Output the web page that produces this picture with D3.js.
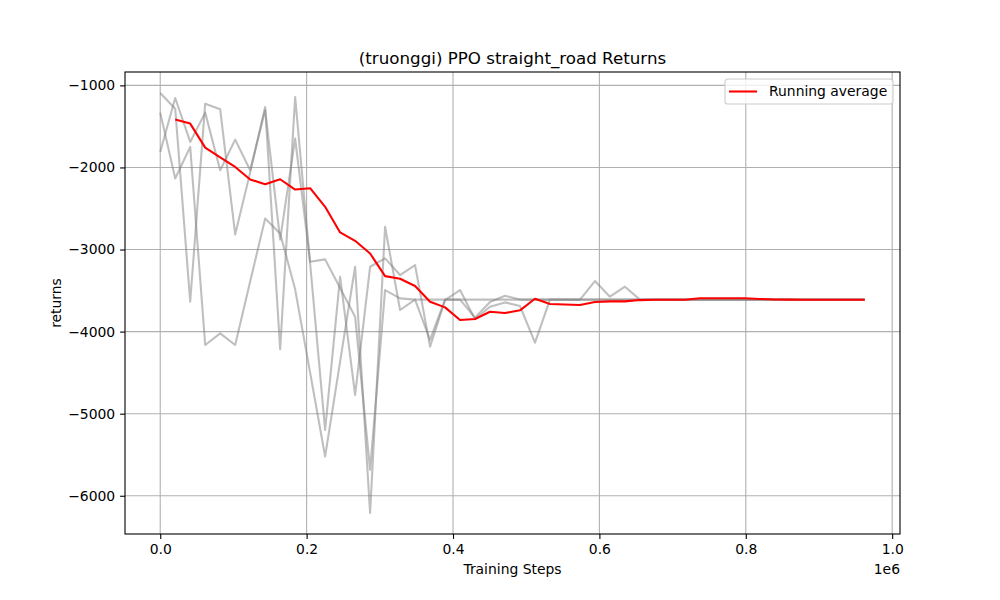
<!DOCTYPE html>
<html>
<head>
<meta charset="utf-8">
<script src="https://cdn.jsdelivr.net/npm/d3@7"></script>
<style>
  body { margin: 0; background: #fff; }
  svg { font-family: "DejaVu Sans", sans-serif; }
</style>
</head>
<body>
<div id="chart"></div>
<script>
// training steps (x)
const steps = [
  0, 20480, 40960, 61440, 81920, 102400, 122880, 143360, 163840, 184320,
  204800, 225280, 245760, 266240, 286720, 307200, 327680, 348160, 368640, 389120,
  409600, 430080, 450560, 471040, 491520, 512000, 532480, 552960, 573440, 593920,
  614400, 634880, 655360, 675840, 696320, 716800, 737280, 757760, 778240, 798720,
  819200, 839680, 860160, 880640, 901120, 921600, 942080, 962560
];

// returns of the three runs (gray)
const runA = [
  -1093, -1284, -3636, -1223, -1292, -2816, -2060, -1263, -4215, -1142,
  -3170, -5197, -3332, -4771, -3210, -3108, -3311, -3190, -4183, -3616,
  -3494, -3850, -3697, -3644, -3688, -4135, -3610, -3610, -3610, -3384,
  -3575, -3453, -3610, -3610, -3610, -3610, -3610, -3610, -3610, -3610,
  -3610, -3610, -3610, -3610, -3610, -3610, -3610, -3610
];
const runB = [
  -1332, -2135, -1750, -4163, -4021, -4163, -3390, -2622, -2804, -3485,
  -4500, -5522, -4365, -3210, -6210, -2723, -3737, -3610, -4100, -3610,
  -3610, -3830, -3640, -3563, -3610, -3610, -3610, -3610, -3610, -3610,
  -3610, -3610, -3610, -3610, -3610, -3610, -3610, -3610, -3610, -3610,
  -3610, -3610, -3610, -3610, -3610, -3610, -3610, -3610
];
const runC = [
  -1811, -1154, -1689, -1332, -2034, -1661, -2034, -1300, -2880, -1649,
  -3150, -3120, -3470, -3818, -5684, -3494, -3595, -3610, -3610, -3610,
  -3610, -3610, -3610, -3610, -3610, -3610, -3610, -3610, -3610, -3610,
  -3610, -3610, -3610, -3610, -3610, -3610, -3610, -3610, -3610, -3610,
  -3610, -3610, -3610, -3610, -3610, -3610, -3610, -3610
];

// running average (red), starts at the second step
const avgSteps = steps.slice(1);
const runningAvg = [
  -1417, -1466, -1758, -1876, -1994, -2147, -2204, -2144, -2269,
  -2253, -2480, -2792, -2894, -3048, -3324, -3356, -3445, -3636, -3705,
  -3859, -3847, -3758, -3774, -3741, -3600, -3664, -3670, -3676, -3640,
  -3632, -3632, -3616, -3612, -3612, -3612, -3593, -3593, -3593, -3593,
  -3602, -3608, -3610, -3611, -3611, -3611, -3611, -3611
];

const xTicks = [0, 200000, 400000, 600000, 800000, 1000000];
const yTicks = [-1000, -2000, -3000, -4000, -5000, -6000];

const width = 1000;
const height = 600;
const margin = { top: 72, right: 100, bottom: 66, left: 125 };
const innerWidth = width - margin.left - margin.right;
const innerHeight = height - margin.top - margin.bottom;

const svg = d3.select("#chart")
  .append("svg")
  .attr("width", width)
  .attr("height", height);

const g = svg.append("g")
  .attr("transform", `translate(${margin.left},${margin.top})`);

// matplotlib style 5% margins
const allY = runA.concat(runB, runC, runningAvg);
const [yMin, yMax] = d3.extent(allY);
const [xMin, xMax] = d3.extent(steps);
const xPad = (xMax - xMin) * 0.05;
const yPad = (yMax - yMin) * 0.05;

const x = d3.scaleLinear()
  .domain([xMin - xPad, xMax + xPad])
  .range([0, innerWidth]);

const y = d3.scaleLinear()
  .domain([yMin - yPad, yMax + yPad])
  .range([innerHeight, 0]);

// grid
g.append("g")
  .selectAll("line")
  .data(xTicks)
  .enter()
  .append("line")
  .attr("x1", d => x(d)).attr("x2", d => x(d))
  .attr("y1", 0).attr("y2", innerHeight)
  .attr("stroke", "#b0b0b0")
  .attr("stroke-width", 1.1);

g.append("g")
  .selectAll("line")
  .data(yTicks)
  .enter()
  .append("line")
  .attr("x1", 0).attr("x2", innerWidth)
  .attr("y1", d => y(d)).attr("y2", d => y(d))
  .attr("stroke", "#b0b0b0")
  .attr("stroke-width", 1.1);

// lines
const line = d3.line()
  .x(d => x(d[0]))
  .y(d => y(d[1]));

[runA, runB, runC].forEach(run => {
  g.append("path")
    .datum(steps.map((s, i) => [s, run[i]]))
    .attr("d", line)
    .attr("fill", "none")
    .attr("stroke", "#808080")
    .attr("stroke-opacity", 0.5)
    .attr("stroke-width", 2.08)
    .attr("stroke-linejoin", "round");
});

g.append("path")
  .datum(avgSteps.map((s, i) => [s, runningAvg[i]]))
  .attr("d", line)
  .attr("fill", "none")
  .attr("stroke", "red")
  .attr("stroke-width", 2.08)
  .attr("stroke-linejoin", "round");

// axes
const xAxis = g.append("g")
  .attr("transform", `translate(0,${innerHeight})`)
  .call(d3.axisBottom(x)
    .tickValues(xTicks)
    .tickFormat(d => (d / 1e6).toFixed(1))
    .tickSize(4.9)
    .tickPadding(4.9));

const yAxis = g.append("g")
  .call(d3.axisLeft(y)
    .tickValues(yTicks)
    .tickFormat(d => "\u2212" + Math.abs(d))
    .tickSize(4.9)
    .tickPadding(4.9));

[xAxis, yAxis].forEach(ax => {
  ax.select(".domain").remove();
  ax.selectAll(".tick line").attr("stroke", "#000").attr("stroke-width", 1.1);
  ax.selectAll("text")
    .attr("fill", "#000")
    .style("font-size", "13.9px")
    .style("font-family", "DejaVu Sans");
});

// frame
g.append("rect")
  .attr("width", innerWidth)
  .attr("height", innerHeight)
  .attr("fill", "none")
  .attr("stroke", "#000")
  .attr("stroke-width", 1.1);

// offset text
svg.append("text")
  .attr("x", margin.left + innerWidth)
  .attr("y", 574)
  .attr("text-anchor", "end")
  .style("font-size", "13.9px")
  .text("1e6");

// labels
svg.append("text")
  .attr("x", margin.left + innerWidth / 2)
  .attr("y", 574)
  .attr("text-anchor", "middle")
  .style("font-size", "13.9px")
  .text("Training Steps");

svg.append("text")
  .attr("transform", `translate(61,${margin.top + innerHeight / 2}) rotate(-90)`)
  .attr("text-anchor", "middle")
  .style("font-size", "13.9px")
  .text("returns");

svg.append("text")
  .attr("x", margin.left + innerWidth / 2)
  .attr("y", 64)
  .attr("text-anchor", "middle")
  .style("font-size", "16.7px")
  .text("(truonggi) PPO straight_road Returns");

// legend
const legend = svg.append("g")
  .attr("transform", `translate(${margin.left + innerWidth - 7},${margin.top + 7})`);

legend.append("rect")
  .attr("x", -168)
  .attr("y", 0)
  .attr("width", 168)
  .attr("height", 25)
  .attr("rx", 2.8)
  .attr("fill", "#fff")
  .attr("fill-opacity", 0.8)
  .attr("stroke", "#cccccc")
  .attr("stroke-width", 1.1);

legend.append("line")
  .attr("x1", -164).attr("x2", -136)
  .attr("y1", 12.5).attr("y2", 12.5)
  .attr("stroke", "red")
  .attr("stroke-width", 2.08);

legend.append("text")
  .attr("x", -124)
  .attr("y", 17.3)
  .style("font-size", "13.9px")
  .text("Running average");
</script>
</body>
</html>
